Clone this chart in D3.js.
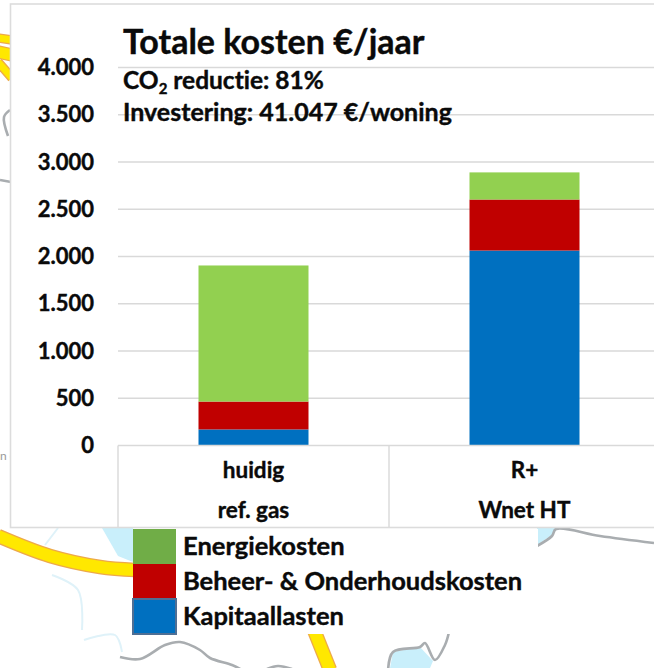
<!DOCTYPE html>
<html><head><meta charset="utf-8">
<script src="https://cdn.jsdelivr.net/npm/d3@7/dist/d3.min.js"></script>
<style>html,body{margin:0;padding:0;background:#fff}svg{display:block}text{font-family:Lato,"Open Sans",sans-serif;font-weight:700;fill:#0a0a0a;stroke:#0a0a0a;stroke-width:.4px;font-variant-ligatures:none}text.map{font-weight:400;fill:#9a9a9a;stroke:none}</style>
</head><body><svg id="c" width="654" height="668"></svg>
<script>
const categoriesTop = ["huidig", "R+"];
const categoriesBottom = ["ref. gas", "Wnet HT"];
const energiekosten = [1440, 287];
const beheerOnderhoud = [295, 540];
const kapitaallasten = [170, 2063];
const yTicks = [0, 500, 1000, 1500, 2000, 2500, 3000, 3500, 4000];
const seriesNames = ["Kapitaallasten", "Beheer- & Onderhoudskosten", "Energiekosten"];
const barColors = ["#0070c0", "#c00000", "#92d050"];
const legendColors = ["#0070c0", "#c00000", "#70ad47"];
const title = "Totale kosten €/jaar";
const investering = "Investering: 41.047 €/woning";

const svg = d3.select("#c");
const fmt = v => v === 0 ? "0" : d3.format(",")(v).replace(/,/g, ".");

// background map fragments
const map = svg.append("g").attr("fill", "none");
const line = d3.line().curve(d3.curveCatmullRom);
const road = (pts, w = 13) => {
  map.append("path").attr("d", line(pts)).attr("stroke", "#eda94a").attr("stroke-width", w + 1.5);
  map.append("path").attr("d", line(pts)).attr("stroke", "#ffe800").attr("stroke-width", w - 1);
};
const border = pts => map.append("path").attr("d", line(pts)).attr("stroke", "#a9adb0").attr("stroke-width", 2.6);
const water = pts => map.append("path").attr("d", line(pts)).attr("stroke", "#dff2f9").attr("stroke-width", 2);
const lake = pts => map.append("path").attr("d", d3.line()(pts) + "Z").attr("fill", "#c9effb").attr("stroke", "none");
lake([[102, 528], [133, 528], [133, 562], [118, 556]]);
lake([[393, 652], [420, 647], [433, 661], [430, 668], [390, 668]]);
lake([[537, 528], [556, 528], [552, 535], [537, 545]]);
road([[-2, 536], [50, 556], [100, 567], [135, 570]]);
road([[314, 630], [330, 670]]);
road([[-2, 38], [12, 40]], 8);
road([[-2, 52], [12, 55]], 12);
road([[-2, 62], [12, 78]], 8);
border([[120, 657], [140, 659], [165, 645], [180, 642], [200, 650], [210, 658], [232, 665], [242, 670]]);
border([[267, 669], [278, 666], [292, 669]]);
border([[537, 546], [552, 536], [556, 529], [600, 536], [654, 543]]);
border([[388, 672], [393, 652], [420, 647], [425, 643], [435, 660], [445, 645], [449, 632]]);
border([[0, 180], [11, 182]]);
border([[10, 110], [4, 117], [8, 136]]);
water([[58, 528], [45, 545]]);
water([[52, 575], [78, 590], [82, 630]]);
water([[84, 640], [115, 635], [122, 652]]);
svg.append("text").attr("class", "map").attr("x", 0).attr("y", 460).attr("font-size", 12).text("n c");

// panel
svg.append("rect").attr("x", 10.5).attr("y", 4).attr("width", 660).attr("height", 523.5)
  .attr("fill", "#fff").attr("stroke", "#dcdcdc").attr("stroke-width", 1.6);

const y = d3.scaleLinear().domain([0, 4000]).range([445.5, 67.5]);
const x = d3.scaleBand().domain(categoriesTop).range([118, 660]);

// grid
svg.append("g").selectAll("line").data(yTicks.filter(d => d > 0)).join("line")
  .attr("x1", 118).attr("x2", 654).attr("y1", d => y(d)).attr("y2", d => y(d))
  .attr("stroke", "#d9d9d9").attr("stroke-width", 1.4);

// bars
const rows = categoriesTop.map((c, i) => ({ cat: c, Kapitaallasten: kapitaallasten[i], "Beheer- & Onderhoudskosten": beheerOnderhoud[i], Energiekosten: energiekosten[i] }));
const stack = d3.stack().keys(seriesNames)(rows);
const bw = 110;
svg.append("g").selectAll("g").data(stack).join("g").attr("fill", (d, i) => barColors[i])
  .selectAll("rect").data(d => d).join("rect")
  .attr("x", d => x(d.data.cat) + x.bandwidth() / 2 - bw / 2)
  .attr("width", bw)
  .attr("y", d => y(d[1])).attr("height", d => y(d[0]) - y(d[1]));

// category axis box
const axisG = svg.append("g").attr("stroke", "#d9d9d9").attr("stroke-width", 1.4);
axisG.append("line").attr("x1", 118).attr("x2", 654).attr("y1", y(0)).attr("y2", y(0));
categoriesTop.forEach(c => {
  axisG.append("line").attr("x1", x(c)).attr("x2", x(c)).attr("y1", y(0)).attr("y2", 527);
});

// y tick labels
svg.append("g").selectAll("text").data(yTicks).join("text")
  .attr("x", 94).attr("y", d => y(d)).attr("dy", "0.35em").attr("text-anchor", "end")
  .attr("font-size", 22).text(fmt);

// category labels
svg.append("g").selectAll("text").data(categoriesTop).join("text")
  .attr("x", d => x(d) + x.bandwidth() / 2).attr("y", 478).attr("text-anchor", "middle")
  .attr("font-size", 22.5).text(d => d);
svg.append("g").selectAll("text").data(categoriesBottom).join("text")
  .attr("x", (d, i) => x(categoriesTop[i]) + x.bandwidth() / 2).attr("y", 518).attr("text-anchor", "middle")
  .attr("font-size", 22.5).text(d => d);

// titles
svg.append("text").attr("x", 123).attr("y", 54).attr("font-size", 34).text(title);
const co2 = svg.append("text").attr("x", 123).attr("y", 89).attr("font-size", 24.5);
co2.append("tspan").text("CO");
co2.append("tspan").attr("font-size", 15).attr("dy", 5).text("2");
co2.append("tspan").attr("dy", -5).text(" reductie: 81%");
svg.append("text").attr("x", 123).attr("y", 121).attr("font-size", 25).text(investering);

// legend
svg.append("rect").attr("x", 133).attr("y", 529).attr("width", 405).attr("height", 105).attr("fill", "#fff");
const legendTop = d3.scaleBand().domain([2, 1, 0]).range([529, 634]);
svg.append("g").selectAll("rect").data([2, 1, 0]).join("rect")
  .attr("x", 133).attr("width", 43).attr("y", d => legendTop(d)).attr("height", legendTop.bandwidth())
  .attr("fill", d => legendColors[d]);
svg.append("rect").attr("x", 133).attr("y", legendTop(0)).attr("width", 43).attr("height", legendTop.bandwidth())
  .attr("fill", "none").attr("stroke", "#4f6f94").attr("stroke-width", 2);
svg.append("g").selectAll("text").data([2, 1, 0]).join("text")
  .attr("x", 183).attr("y", d => legendTop(d) + legendTop.bandwidth() / 2).attr("dy", "0.35em")
  .attr("font-size", 25.5).text(d => seriesNames[d]);
</script></body></html>
